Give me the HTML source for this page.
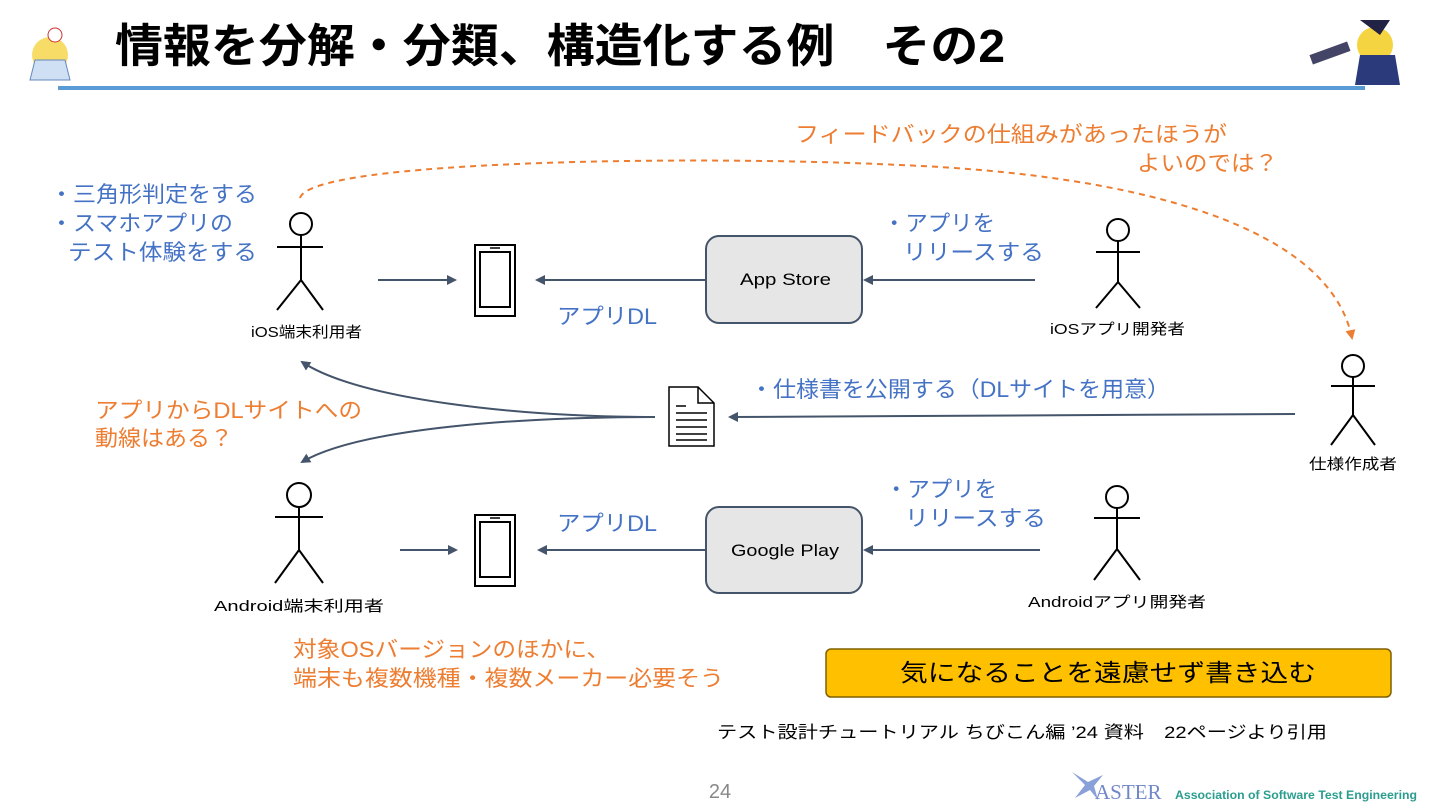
<!DOCTYPE html>
<html><head><meta charset="utf-8"><style>
body{margin:0;background:#fff;}
svg{display:block;font-family:"Liberation Sans","Noto Sans CJK JP",sans-serif;}
</style></head><body>
<svg width="1440" height="810" viewBox="0 0 1440 810" xmlns="http://www.w3.org/2000/svg">
<defs>
<marker id="a" markerWidth="10" markerHeight="10" refX="8" refY="5" orient="auto" markerUnits="userSpaceOnUse"><path d="M0,0 L10,5 L0,10 z" fill="#44546a"/></marker>
<marker id="o" markerWidth="10" markerHeight="10" refX="8" refY="5" orient="auto" markerUnits="userSpaceOnUse"><path d="M0,0 L10,5 L0,10 z" fill="#ed7d31"/></marker>
</defs>
<text x="115" y="62" font-size="46" font-weight="bold" fill="#000" textLength="890" lengthAdjust="spacingAndGlyphs">情報を分解・分類、構造化する例　その2</text>
<rect x="58" y="86" width="1307" height="4" fill="#5b9bd5"/>
<g><circle cx="50" cy="55" r="18" fill="#f5d442" opacity="0.8"/><path d="M35,60 L65,60 L70,80 L30,80z" fill="#cfe0f5" stroke="#6688bb"/><circle cx="55" cy="35" r="7" fill="#fff" stroke="#c33"/></g>
<g><circle cx="1375" cy="45" r="18" fill="#f5d442"/><path d="M1360,20 L1390,20 L1380,35z" fill="#224"/><path d="M1360,55 L1395,55 L1400,85 L1355,85z" fill="#2a3a7a"/><rect x="1310" y="48" width="40" height="10" fill="#446" transform="rotate(-20 1330 53)"/></g>

<g stroke="#000" stroke-width="2" fill="none">
<circle cx="301" cy="224" r="11"/><path d="M301,235 V280 M277,247 H323 M301,280 L277,310 M301,280 L323,310"/>
<circle cx="1118" cy="230" r="11"/><path d="M1118,241 V282 M1096,252 H1140 M1118,282 L1096,308 M1118,282 L1140,308"/>
<circle cx="1353" cy="366" r="11"/><path d="M1353,377 V415 M1331,386 H1375 M1353,415 L1331,445 M1353,415 L1375,445"/>
<circle cx="299" cy="495" r="12"/><path d="M299,507 V550 M275,517 H323 M299,550 L275,583 M299,550 L323,583"/>
<circle cx="1117" cy="497" r="11"/><path d="M1117,508 V549 M1094,518 H1140 M1117,549 L1094,580 M1117,549 L1140,580"/>
</g>
<g font-size="15" fill="#000">
<text x="251" y="337" textLength="111" lengthAdjust="spacingAndGlyphs">iOS端末利用者</text>
<text x="1050" y="334" textLength="135" lengthAdjust="spacingAndGlyphs">iOSアプリ開発者</text>
<text x="1309" y="469" textLength="88" lengthAdjust="spacingAndGlyphs">仕様作成者</text>
<text x="214" y="611" textLength="170" lengthAdjust="spacingAndGlyphs">Android端末利用者</text>
<text x="1028" y="607" textLength="178" lengthAdjust="spacingAndGlyphs">Androidアプリ開発者</text>
</g>
<g stroke="#000" stroke-width="2" fill="#fff">
<rect x="475" y="245" width="40" height="71"/><rect x="480" y="252" width="30" height="55"/>
<rect x="475" y="515" width="40" height="71"/><rect x="480" y="522" width="30" height="55"/>
</g>
<path d="M490,248 H500 M490,518 H500" stroke="#000" stroke-width="1.5"/>
<path d="M669,387 H698 L714,403 V446 H669 Z M698,387 V403 H714" fill="#fff" stroke="#000" stroke-width="1.5"/>
<path d="M676,406 H686 M676,413 H707 M676,420 H707 M676,427 H707 M676,434 H707 M676,440 H707" stroke="#000" stroke-width="1.5"/>
<rect x="706" y="236" width="156" height="87" rx="13" fill="#e7e6e6" stroke="#44546a" stroke-width="2"/>
<text x="740" y="285" font-size="17" textLength="91" lengthAdjust="spacingAndGlyphs">App Store</text>
<rect x="706" y="507" width="156" height="86" rx="13" fill="#e7e6e6" stroke="#44546a" stroke-width="2"/>
<text x="731" y="556" font-size="17" textLength="108" lengthAdjust="spacingAndGlyphs">Google Play</text>
<g stroke="#44546a" stroke-width="2" fill="none" marker-end="url(#a)">
<path d="M378,280 H455"/>
<path d="M706,280 H537"/>
<path d="M1035,280 H865"/>
<path d="M1295,414 L730,417"/>
<path d="M400,550 H456"/>
<path d="M706,550 H539"/>
<path d="M1040,550 H865"/>
<path d="M655,417 C520,417 360,400 302,362"/>
<path d="M655,417 C520,417 360,428 302,462"/>
</g>
<path d="M300,198 C310,160 700,155 900,165 C1150,175 1330,230 1352,338" stroke="#ed7d31" stroke-width="2" fill="none" stroke-dasharray="6,5" marker-end="url(#o)"/>
<g font-size="22" fill="#4472c4">
<text x="50" y="202" textLength="207" lengthAdjust="spacingAndGlyphs">・三角形判定をする</text>
<text x="50" y="231" textLength="183" lengthAdjust="spacingAndGlyphs">・スマホアプリの</text>
<text x="68" y="260" textLength="189" lengthAdjust="spacingAndGlyphs">テスト体験をする</text>
<text x="557" y="324" textLength="100" lengthAdjust="spacingAndGlyphs">アプリDL</text>
<text x="883" y="231" textLength="112" lengthAdjust="spacingAndGlyphs">・アプリを</text>
<text x="903" y="260" textLength="141" lengthAdjust="spacingAndGlyphs">リリースする</text>
<text x="750" y="397" textLength="420" lengthAdjust="spacingAndGlyphs">・仕様書を公開する（DLサイトを用意）</text>
<text x="885" y="497" textLength="112" lengthAdjust="spacingAndGlyphs">・アプリを</text>
<text x="905" y="526" textLength="141" lengthAdjust="spacingAndGlyphs">リリースする</text>
<text x="557" y="531" textLength="100" lengthAdjust="spacingAndGlyphs">アプリDL</text>
</g>
<g font-size="22" fill="#ed7d31">
<text x="795" y="142" textLength="432" lengthAdjust="spacingAndGlyphs">フィードバックの仕組みがあったほうが</text>
<text x="1137" y="171" textLength="141" lengthAdjust="spacingAndGlyphs">よいのでは？</text>
<text x="95" y="418" textLength="267" lengthAdjust="spacingAndGlyphs">アプリからDLサイトへの</text>
<text x="95" y="446" textLength="138" lengthAdjust="spacingAndGlyphs">動線はある？</text>
<text x="293" y="657" textLength="317" lengthAdjust="spacingAndGlyphs">対象OSバージョンのほかに、</text>
<text x="293" y="686" textLength="431" lengthAdjust="spacingAndGlyphs">端末も複数機種・複数メーカー必要そう</text>
</g>
<rect x="826" y="649" width="565" height="48" rx="5" fill="#ffc000" stroke="#7f6000" stroke-width="1.5"/>
<text x="900" y="681" font-size="24" fill="#000" textLength="416" lengthAdjust="spacingAndGlyphs">気になることを遠慮せず書き込む</text>
<text x="717" y="738" font-size="17" fill="#000" textLength="610" lengthAdjust="spacingAndGlyphs">テスト設計チュートリアル ちびこん編 ’24 資料　22ページより引用</text>
<text x="720" y="798" font-size="20" fill="#888" text-anchor="middle">24</text>
<path d="M1072,772 L1085,785 L1075,798 L1090,790 L1098,800 L1094,786 L1103,775 L1088,782 Z" fill="#8aa0d8"/>
<text x="1095" y="799" font-size="21" font-family="Liberation Serif, serif" fill="#7088c8">ASTER</text>
<text x="1175" y="799" font-size="11.5" font-weight="bold" fill="#2a9d8f" textLength="242" lengthAdjust="spacingAndGlyphs">Association of Software Test Engineering</text>
</svg>
</body></html>
